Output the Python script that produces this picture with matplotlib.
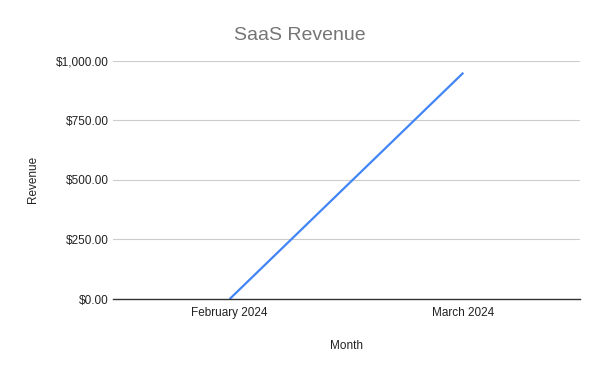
import matplotlib
matplotlib.use("Agg")
import matplotlib.pyplot as plt
from matplotlib.ticker import FuncFormatter

months = ["February 2024", "March 2024"]
revenue = [0, 950]
y_ticks = [0, 250, 500, 750, 1000]

plt.rcParams['font.family'] = ['Liberation Sans', 'DejaVu Sans']

fig = plt.figure(figsize=(6, 3.71), dpi=100)
ax = fig.add_axes([0.188, 0.194, 0.779, 0.642])

x = list(range(len(months)))
ax.plot(x, revenue, color='#4285f4', linewidth=1.6, solid_capstyle='butt')

ax.set_xlim(-0.5, len(months) - 0.5)
ax.set_ylim(0, 1000)
ax.set_yticks(y_ticks)
ax.yaxis.set_major_formatter(FuncFormatter(lambda v, p: f"${v:,.2f}"))
ax.set_xticks(x)
ax.set_xticklabels(months)

ax.grid(axis='y', color='#cccccc', linewidth=0.8)
ax.set_axisbelow(True)
for side in ['top', 'right', 'left']:
    ax.spines[side].set_visible(False)
ax.spines['bottom'].set_color('#333333')
ax.spines['bottom'].set_linewidth(1)
ax.spines['bottom'].set_zorder(3)
ax.tick_params(length=0, labelsize=8.5, colors='#222222', pad=3)
ax.tick_params(axis='x', pad=6)

ax.set_xlabel("Month", fontsize=8.5, color='#222222', labelpad=15)
ax.set_ylabel("Revenue", fontsize=8.5, color='#222222', labelpad=12)
fig.suptitle("SaaS Revenue", fontsize=14, color='#757575', y=0.928)

fig.savefig("out.png", dpi=100)
